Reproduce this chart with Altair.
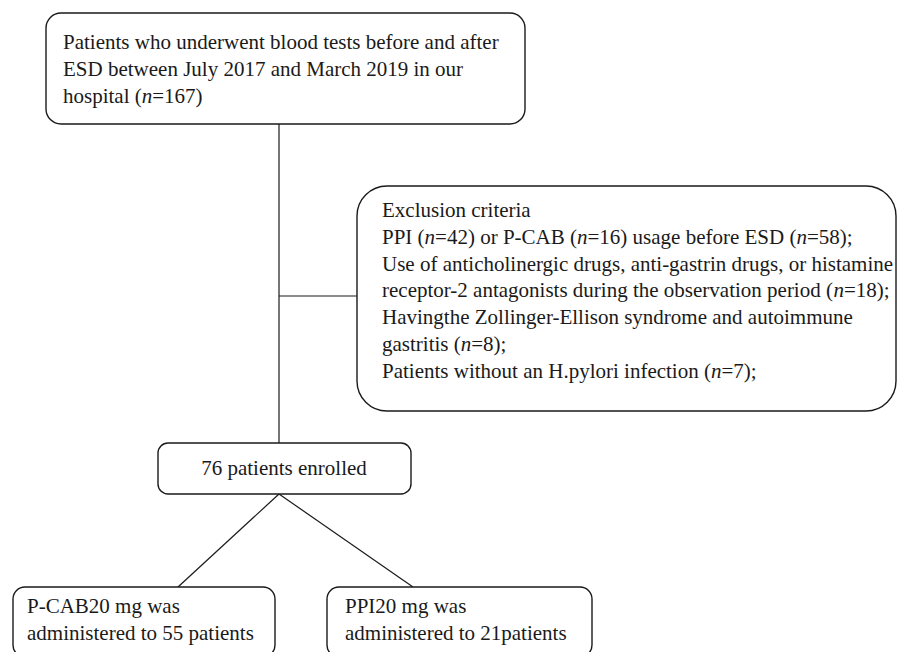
import re
import altair as alt
import pandas as pd

# ---- flowchart content ----
box_names = ["source", "exclusion", "enrolled", "pcab", "ppi"]
box_x0 = [46, 357, 158, 13, 327]
box_x1 = [525, 896, 411, 275, 592]
box_y0 = [13, 186, 443, 587, 587]
box_y1 = [124, 411, 494, 657, 657]
box_radius = [15, 30, 10, 12, 12]

# connector segments (x, y) -> (x2, y2)
seg_x0 = [279, 279, 279, 279]
seg_y0 = [124, 296, 494, 494]
seg_x1 = [279, 357, 178, 413]
seg_y1 = [443, 296, 587, 587]

source_lines = [
    "Patients who underwent blood tests before and after",
    "ESD between July 2017 and March 2019 in our",
    "hospital (n=167)",
]
exclusion_lines = [
    "Exclusion criteria",
    "PPI (n=42) or P-CAB (n=16) usage before ESD (n=58);",
    "Use of anticholinergic drugs, anti-gastrin drugs, or histamine",
    "receptor-2 antagonists during the observation period (n=18);",
    "Havingthe Zollinger-Ellison syndrome and autoimmune",
    "gastritis (n=8);",
    "Patients without an H.pylori infection (n=7);",
]
enrolled_lines = ["76 patients enrolled"]
pcab_lines = ["P-CAB20 mg was", "administered to 55 patients"]
ppi_lines = ["PPI20 mg was", "administered to 21patients"]

text_blocks = [
    (source_lines, 63, 43),
    (exclusion_lines, 382, 211),
    (pcab_lines, 27, 607),
    (ppi_lines, 345, 607),
]
line_step = 26.8

FONT = "Liberation Serif"
FS = 21
INK = "#1a1a1a"

# approximate advance widths (per 1000 em) of a Times-metric serif font,
# used only to place the italic "n" segments inside a line
_W = {" ": 250, "(": 333, ")": 333, "=": 564, ";": 278, ",": 250, ".": 250,
      "-": 333, "0": 500, "1": 500, "2": 500, "3": 500, "4": 500, "5": 500,
      "6": 500, "7": 500, "8": 500, "9": 500,
      "a": 444, "b": 500, "c": 444, "d": 500, "e": 444, "f": 333, "g": 500,
      "h": 500, "i": 278, "j": 278, "k": 500, "l": 278, "m": 778, "n": 500,
      "o": 500, "p": 500, "q": 500, "r": 333, "s": 389, "t": 278, "u": 500,
      "v": 500, "w": 722, "x": 500, "y": 500, "z": 444,
      "A": 722, "B": 667, "C": 667, "D": 722, "E": 611, "F": 556, "G": 722,
      "H": 722, "I": 333, "J": 389, "K": 722, "L": 611, "M": 889, "N": 722,
      "O": 722, "P": 556, "Q": 722, "R": 667, "S": 556, "T": 611, "U": 722,
      "V": 722, "W": 944, "X": 722, "Y": 722, "Z": 611}


def width(s):
    return sum(_W.get(c, 500) for c in s) * FS / 1000.0


rows = []
for lines, tx, ty in text_blocks:
    for i, t in enumerate(lines):
        parts = re.split(r"(?<=\()(n)(?==)", t)
        off = 0.0
        for p in parts:
            if not p:
                continue
            rows.append({"x": tx + off, "y": ty + i * line_step, "text": p,
                         "italic": p == "n"})
            off += width(p)
seg_text = pd.DataFrame(rows)
text_normal = seg_text[~seg_text["italic"]]
text_italic = seg_text[seg_text["italic"]]
text_center = pd.DataFrame([{"x": 284, "y": 469, "text": enrolled_lines[0]}])

boxes = pd.DataFrame({"name": box_names, "x0": box_x0, "x1": box_x1,
                      "y0": box_y0, "y1": box_y1, "r": box_radius})
segs = pd.DataFrame({"x0": seg_x0, "y0": seg_y0, "x1": seg_x1, "y1": seg_y1})

W, H = 889, 644
xs = alt.Scale(domain=[8, 8 + W], nice=False, zero=False)
ys = alt.Scale(domain=[8, 8 + H], nice=False, zero=False, reverse=True)

layers = []
for r in sorted(set(box_radius)):
    sub = boxes[boxes["r"] == r]
    layers.append(
        alt.Chart(sub).mark_rect(cornerRadius=r, fill="white", stroke=INK,
                                 strokeWidth=1.4).encode(
            x=alt.X("x0:Q", scale=xs, axis=None),
            x2="x1:Q",
            y=alt.Y("y0:Q", scale=ys, axis=None),
            y2="y1:Q",
        )
    )

rules = alt.Chart(segs).mark_rule(color=INK, strokeWidth=1.2).encode(
    x=alt.X("x0:Q", scale=xs, axis=None),
    x2="x1:Q",
    y=alt.Y("y0:Q", scale=ys, axis=None),
    y2="y1:Q",
)


def text_layer(df, align, style="normal"):
    return alt.Chart(df).mark_text(align=align, baseline="middle", font=FONT,
                                   fontSize=FS, fontStyle=style,
                                   color=INK).encode(
        x=alt.X("x:Q", scale=xs, axis=None),
        y=alt.Y("y:Q", scale=ys, axis=None),
        text="text:N",
    )


tl = text_layer(text_normal, "left")
ti = text_layer(text_italic, "left", "italic")
tc = text_layer(text_center, "center")

chart = alt.layer(rules, *layers, tl, ti, tc).properties(
    width=W, height=H, padding=0, autosize=alt.AutoSizeParams(type="none")
).configure_view(stroke=None)

chart.save("out.html", embed_options={"renderer": "svg", "actions": False})
